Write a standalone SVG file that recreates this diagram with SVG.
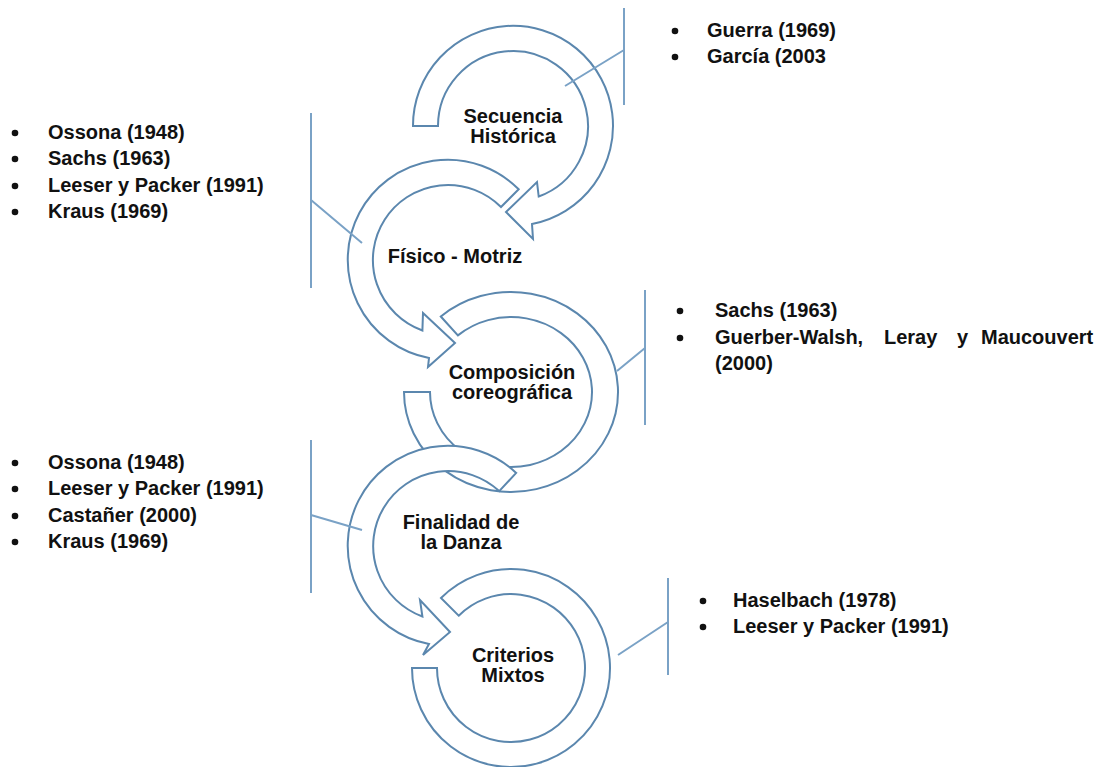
<svg xmlns="http://www.w3.org/2000/svg" width="1101" height="767" viewBox="0 0 1101 767">
  <style>
    .ring { fill: #ffffff; stroke: #5b87ae; stroke-width: 2; stroke-linejoin: miter; }
    .link { fill: none; stroke: #7aa2c6; stroke-width: 2; }
    .lbl { font-family: "Liberation Sans", Arial, sans-serif; font-weight: bold; font-size: 20px; fill: #111; }
    .mid { text-anchor: middle; }
    .dot { fill: #111; }
  </style>
  <rect width="1101" height="767" fill="#ffffff"/>

  <!-- circular arrows, back to front -->
  <g id="node-composicion">
    <path class="ring" d="M 404,392 A 107 100 0 1 0 440.8,316.5 L 457.9,335.4 A 81 75 0 1 1 430,392 Z"/>
    <text class="lbl mid" x="512" y="379">Composición</text>
    <text class="lbl mid" x="512" y="399">coreográfica</text>
  </g>
  <g id="node-criterios">
    <path class="ring" d="M 412,668 A 99 99 0 1 0 441,598 L 458.7,615.7 A 74 74 0 1 1 437,668 Z"/>
    <text class="lbl mid" x="513" y="662">Criterios</text>
    <text class="lbl mid" x="513" y="682">Mixtos</text>
  </g>
  <g id="node-finalidad">
    <path class="ring" d="M 516.2,472.9 A 100 100 0 1 0 429,644 L 423,655 L 450,632 L 420,600 L 422.4,616.5 A 75 75 0 1 1 499.2,491.1 Z"/>
    <text class="lbl mid" x="461" y="529">Finalidad de</text>
    <text class="lbl mid" x="461" y="549">la Danza</text>
  </g>
  <g id="node-fisico">
    <path class="ring" d="M 518.7,189.3 A 100 100 0 1 0 429,358 L 428,367 L 455,343 L 423,313 L 422.4,330.5 A 75 75 0 1 1 501,207 Z"/>
    <text class="lbl mid" x="455" y="263">Físico - Motriz</text>
  </g>
  <g id="node-secuencia">
    <path class="ring" d="M 413,126 A 100 100 0 1 1 532,224 L 533,239 L 506,212 L 537,182 L 538.7,196.5 A 75 75 0 1 0 438,126 Z"/>
    <text class="lbl mid" x="513" y="123">Secuencia</text>
    <text class="lbl mid" x="513" y="143">Histórica</text>
  </g>

  <!-- bracket connectors to the reference lists -->
  <g id="connectors">
    <path class="link" d="M 624,8 V 105 M 624,50 L 565,86"/>
    <path class="link" d="M 311,113 V 288 M 311,200 L 362,243"/>
    <path class="link" d="M 645,290 V 425 M 645,348 L 617,371"/>
    <path class="link" d="M 311,440 V 593 M 311,515 L 362,530"/>
    <path class="link" d="M 668,578 V 675 M 668,622 L 618,655"/>
  </g>

  <!-- reference lists -->
  <g id="list-secuencia">
    <circle class="dot" cx="675" cy="31" r="3.3"/>
    <text class="lbl" x="707" y="37">Guerra (1969)</text>
    <circle class="dot" cx="675" cy="57" r="3.3"/>
    <text class="lbl" x="707" y="63">García (2003</text>
  </g>
  <g id="list-fisico">
    <circle class="dot" cx="15" cy="133" r="3.3"/>
    <text class="lbl" x="48" y="139">Ossona (1948)</text>
    <circle class="dot" cx="15" cy="159" r="3.3"/>
    <text class="lbl" x="48" y="165">Sachs (1963)</text>
    <circle class="dot" cx="15" cy="186" r="3.3"/>
    <text class="lbl" x="48" y="192">Leeser y Packer (1991)</text>
    <circle class="dot" cx="15" cy="212" r="3.3"/>
    <text class="lbl" x="48" y="218">Kraus (1969)</text>
  </g>
  <g id="list-composicion">
    <circle class="dot" cx="680" cy="311" r="3.3"/>
    <text class="lbl" x="715" y="317">Sachs (1963)</text>
    <circle class="dot" cx="680" cy="338" r="3.3"/>
    <text class="lbl" y="344"><tspan x="715">Guerber-Walsh,</tspan><tspan x="884">Leray</tspan><tspan x="957">y</tspan><tspan x="981">Maucouvert</tspan></text>
    <text class="lbl" x="715" y="370">(2000)</text>
  </g>
  <g id="list-finalidad">
    <circle class="dot" cx="15" cy="463" r="3.3"/>
    <text class="lbl" x="48" y="469">Ossona (1948)</text>
    <circle class="dot" cx="15" cy="489" r="3.3"/>
    <text class="lbl" x="48" y="495">Leeser y Packer (1991)</text>
    <circle class="dot" cx="15" cy="516" r="3.3"/>
    <text class="lbl" x="48" y="522">Castañer (2000)</text>
    <circle class="dot" cx="15" cy="542" r="3.3"/>
    <text class="lbl" x="48" y="548">Kraus (1969)</text>
  </g>
  <g id="list-criterios">
    <circle class="dot" cx="703" cy="601" r="3.3"/>
    <text class="lbl" x="733" y="607">Haselbach (1978)</text>
    <circle class="dot" cx="703" cy="627" r="3.3"/>
    <text class="lbl" x="733" y="633">Leeser y Packer (1991)</text>
  </g>
</svg>
